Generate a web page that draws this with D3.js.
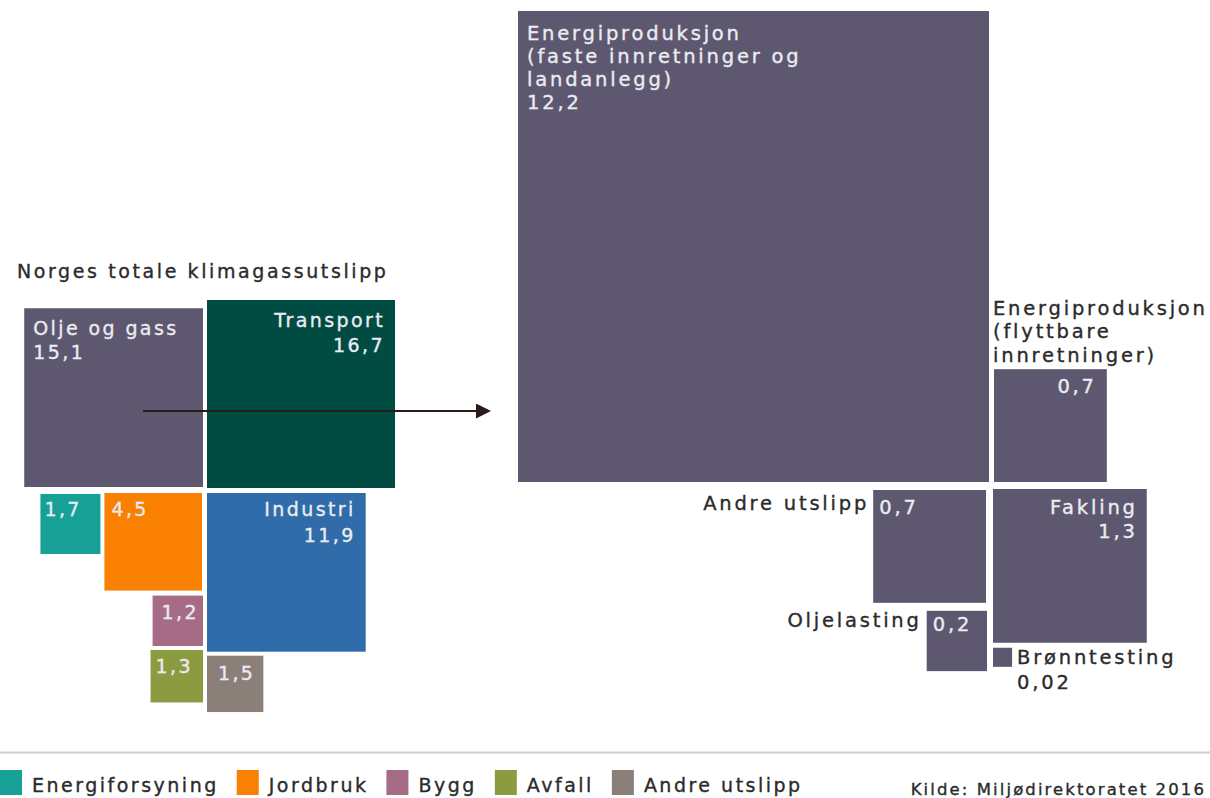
<!DOCTYPE html>
<html>
<head>
<meta charset="utf-8">
<script src="https://cdn.jsdelivr.net/npm/d3@7"></script>
<style>
  html, body { margin: 0; padding: 0; background: #ffffff; }
  svg { display: block; }
  text { font-family: "DejaVu Sans", Verdana, sans-serif; }
</style>
</head>
<body>
<svg id="chart" width="1210" height="798"></svg>
<script>
// Norway's total greenhouse gas emissions (million tonnes CO2-eq), by sector
const sectorNames  = ["Olje og gass", "Transport", "Industri", "Energiforsyning", "Jordbruk", "Bygg", "Avfall", "Andre utslipp"];
const sectorValues = [15.1, 16.7, 11.9, 1.7, 4.5, 1.2, 1.3, 1.5];
const sectorLabels = ["15,1", "16,7", "11,9", "1,7", "4,5", "1,2", "1,3", "1,5"];

// Breakdown of the oil and gas sector
const oilNames  = ["Energiproduksjon (faste innretninger og landanlegg)", "Energiproduksjon (flyttbare innretninger)", "Andre utslipp", "Fakling", "Oljelasting", "Brønntesting"];
const oilValues = [12.2, 0.7, 0.7, 1.3, 0.2, 0.02];
const oilLabels = ["12,2", "0,7", "0,7", "1,3", "0,2", "0,02"];

// Legend entries for the smaller sectors
const legendNames = ["Energiforsyning", "Jordbruk", "Bygg", "Avfall", "Andre utslipp"];

const title  = "Norges totale klimagassutslipp";
const source = "Kilde: Miljødirektoratet 2016";

const colors = {
  "Olje og gass": "#5d586f",
  "Transport": "#004c43",
  "Industri": "#2f6ca9",
  "Energiforsyning": "#17a096",
  "Jordbruk": "#f98000",
  "Bygg": "#a66b85",
  "Avfall": "#8b9b3f",
  "Andre utslipp": "#8b8079"
};
const oilColor = "#5d586f";
const inText = "#ecebf2";
const outText = "#2b2b2b";

const svg = d3.select("#chart");

// Square side is proportional to sqrt(value) so the area encodes the value
const sideL = d3.scaleSqrt().domain([0, d3.max(sectorValues)]).range([0, 188]);
const sideR = d3.scaleSqrt().domain([0, d3.max(oilValues)]).range([0, 471]);

const sectors = sectorNames.map((n, i) => ({ name: n, value: sectorValues[i], label: sectorLabels[i], s: sideL(sectorValues[i]) }));
const byName = Object.fromEntries(sectors.map(d => [d.name, d]));

// Place the sector squares around a central gap
const cx = 205, cy = 490;
const olje = byName["Olje og gass"];      olje.x = cx - 2 - olje.s; olje.y = cy - 3 - olje.s;
const tr = byName["Transport"];           tr.x = cx + 2;            tr.y = cy - 2 - tr.s;
const ind = byName["Industri"];           ind.x = cx + 2;           ind.y = cy + 3;
const jord = byName["Jordbruk"];          jord.x = cx - 3 - jord.s; jord.y = cy + 3;
const ener = byName["Energiforsyning"];   ener.x = jord.x - 4 - ener.s; ener.y = cy + 4;
const bygg = byName["Bygg"];              bygg.x = cx - 2 - bygg.s; bygg.y = jord.y + jord.s + 5;
const avf = byName["Avfall"];             avf.x = cx - 2 - avf.s;   avf.y = bygg.y + bygg.s + 4;
const andre = byName["Andre utslipp"];    andre.x = cx + 2;         andre.y = ind.y + ind.s + 4;

const gL = svg.append("g");
gL.selectAll("rect").data(sectors).join("rect")
  .attr("x", d => d.x).attr("y", d => d.y)
  .attr("width", d => d.s).attr("height", d => d.s)
  .attr("fill", d => colors[d.name]);

const fs = 19, ls = 2.4;
function txt(g, x, y, str, opts = {}) {
  const fill = opts.fill || inText;
  return g.append("text")
    .attr("x", x).attr("y", y)
    .attr("font-size", opts.size || fs)
    .attr("letter-spacing", opts.ls !== undefined ? opts.ls : ls)
    .attr("fill", fill)
    .attr("stroke", fill)
    .attr("stroke-width", opts.sw !== undefined ? opts.sw : 0.35)
    .attr("text-anchor", opts.anchor || "start")
    .text(str);
}

txt(svg, 17, 278, title, { fill: outText, size: 19, ls: 2.6 });

// Labels inside the sector squares
txt(gL, olje.x + 9, olje.y + 27, "Olje og gass");
txt(gL, olje.x + 9, olje.y + 51, olje.label);
txt(gL, tr.x + tr.s - 10, tr.y + 27, "Transport", { anchor: "end" });
txt(gL, tr.x + tr.s - 10, tr.y + 52, tr.label, { anchor: "end" });
txt(gL, ind.x + ind.s - 10, ind.y + 23, "Industri", { anchor: "end" });
txt(gL, ind.x + ind.s - 10, ind.y + 49, ind.label, { anchor: "end" });
txt(gL, ener.x + 4, ener.y + 22, ener.label);
txt(gL, jord.x + 7, jord.y + 23, jord.label);
txt(gL, bygg.x + bygg.s - 4, bygg.y + 23, bygg.label, { anchor: "end" });
txt(gL, avf.x + 5, avf.y + 23, avf.label);
txt(gL, andre.x + andre.s - 8, andre.y + 24, andre.label, { anchor: "end" });

// Arrow from the oil and gas square to its breakdown
const defs = svg.append("defs");
defs.append("marker")
  .attr("id", "arrowhead")
  .attr("viewBox", "0 0 10 10")
  .attr("refX", 0).attr("refY", 5)
  .attr("markerWidth", 15).attr("markerHeight", 15)
  .attr("markerUnits", "userSpaceOnUse")
  .attr("orient", "auto")
  .append("path").attr("d", "M0,0 L10,5 L0,10 Z").attr("fill", "#2a1a18");
svg.append("line")
  .attr("x1", 143).attr("y1", 411).attr("x2", 476).attr("y2", 411)
  .attr("stroke", "#2a1a18").attr("stroke-width", 2)
  .attr("marker-end", "url(#arrowhead)");

// Oil and gas breakdown
const oil = oilNames.map((n, i) => ({ name: n, value: oilValues[i], label: oilLabels[i], s: sideR(oilValues[i]) }));
const [big, flytt, oAndre, fakl, olast, bronn] = oil;
big.x = 518; big.y = 11;
const bx = big.x + big.s, by = big.y + big.s;
flytt.x = bx + 5;             flytt.y = by - flytt.s;
fakl.x = bx + 4;              fakl.y = by + 7;
oAndre.x = bx - 3 - oAndre.s; oAndre.y = by + 8;
olast.x = bx - 2 - olast.s;   olast.y = oAndre.y + oAndre.s + 8;
bronn.x = fakl.x;             bronn.y = fakl.y + fakl.s + 5;

const gR = svg.append("g");
gR.selectAll("rect").data(oil).join("rect")
  .attr("x", d => d.x).attr("y", d => d.y)
  .attr("width", d => d.s).attr("height", d => d.s)
  .attr("fill", oilColor);

const rs = 19.5, rls = 2.8;
const R = (g, x, y, str, o = {}) => txt(g, x, y, str, Object.assign({ size: rs, ls: rls }, o));

R(gR, big.x + 9, big.y + 29, "Energiproduksjon");
R(gR, big.x + 9, big.y + 52, "(faste innretninger og");
R(gR, big.x + 9, big.y + 75, "landanlegg)");
R(gR, big.x + 9, big.y + 98, big.label);

R(gR, flytt.x - 1, flytt.y - 54, "Energiproduksjon", { fill: outText });
R(gR, flytt.x - 1, flytt.y - 31, "(flyttbare", { fill: outText });
R(gR, flytt.x - 1, flytt.y - 7, "innretninger)", { fill: outText });
R(gR, flytt.x + flytt.s - 10, flytt.y + 24, flytt.label, { anchor: "end" });

R(gR, oAndre.x - 4, oAndre.y + 20, "Andre utslipp", { fill: outText, anchor: "end" });
R(gR, oAndre.x + 6, oAndre.y + 24, oAndre.label);

R(gR, fakl.x + fakl.s - 9, fakl.y + 25, "Fakling", { anchor: "end" });
R(gR, fakl.x + fakl.s - 9, fakl.y + 49, fakl.label, { anchor: "end" });

R(gR, olast.x - 5, olast.y + 16, "Oljelasting", { fill: outText, anchor: "end" });
R(gR, olast.x + 6, olast.y + 20, olast.label);

R(gR, bronn.x + bronn.s + 5, bronn.y + 16, "Brønntesting", { fill: outText });
R(gR, bronn.x + bronn.s + 5, bronn.y + 41, bronn.label, { fill: outText });

// Footer: separator, legend and source
svg.append("line")
  .attr("x1", 0).attr("x2", 1210).attr("y1", 752.5).attr("y2", 752.5)
  .attr("stroke", "#cfcfcf").attr("stroke-width", 2);

const gLeg = svg.append("g");
let lx = 0;
legendNames.forEach(n => {
  gLeg.append("rect").attr("x", lx).attr("y", 770).attr("width", 22).attr("height", 25).attr("fill", colors[n]);
  const t = txt(gLeg, lx + 32, 792, n, { fill: outText, size: 19, ls: 2.5 });
  lx += 32 + t.node().getComputedTextLength() + 18;
});

txt(svg, 1206, 795, source, { fill: outText, size: 16.5, ls: 2.1, anchor: "end" });
</script>
</body>
</html>
